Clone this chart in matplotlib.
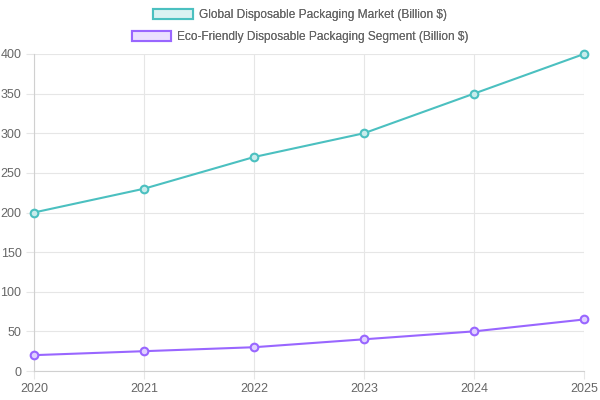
import matplotlib
matplotlib.use("Agg")
import matplotlib.pyplot as plt
from matplotlib.patches import Patch

years = ["2020", "2021", "2022", "2023", "2024", "2025"]
global_market = [200, 230, 270, 300, 350, 400]
eco_segment = [20, 25, 30, 40, 50, 65]
y_ticks = [0, 50, 100, 150, 200, 250, 300, 350, 400]
label_global = "Global Disposable Packaging Market (Billion $)"
label_eco = "Eco-Friendly Disposable Packaging Segment (Billion $)"

teal = (75/255, 192/255, 192/255)
purple = (153/255, 102/255, 255/255)

def light(c, a=0.2):
    return tuple(a*v + (1-a) for v in c)

plt.rcParams['font.family'] = ['Liberation Sans', 'DejaVu Sans']

fig = plt.figure(figsize=(6, 4), dpi=100)
ax = fig.add_axes([34/600, 1-371/400, 550/600, (371-54)/400])

x = list(range(len(years)))
for vals, col in [(global_market, teal), (eco_segment, purple)]:
    ax.plot(x, vals, color=col, lw=1.5, marker='o', ms=5.5, mew=1.5,
            mfc=light(col, 0.3), mec=col, zorder=3, clip_on=False)

ax.set_xlim(0, len(years)-1)
ax.set_ylim(0, 400)
ax.set_xticks(x)
ax.set_xticklabels(years)
ax.set_yticks(y_ticks)
ax.grid(True, color='#e6e6e6', lw=0.8)
ax.set_axisbelow(True)
for s in ['top', 'right']:
    ax.spines[s].set_visible(False)
for s in ['left', 'bottom']:
    ax.spines[s].set_color('#d0d0d0')
    ax.spines[s].set_linewidth(0.8)
ax.tick_params(axis='both', colors='#e6e6e6', labelcolor='#666666', labelsize=9,
               length=6, width=0.8)
ax.tick_params(axis='y', pad=3)
ax.tick_params(axis='x', pad=3)

for lab, col, yy in [(label_global, teal, 1-15/400), (label_eco, purple, 1-37/400)]:
    h = Patch(facecolor=light(col, 0.2), edgecolor=col, linewidth=1.5)
    leg = fig.legend([h], [lab], loc='center', bbox_to_anchor=(0.5, yy),
                     frameon=False, fontsize=8.6, handlelength=3.3, handleheight=0.95,
                     handletextpad=0.5, borderpad=0, borderaxespad=0)
    for t in leg.get_texts():
        t.set_color('#666666')
    fig.add_artist(leg)

fig.savefig("out.png", dpi=100)
